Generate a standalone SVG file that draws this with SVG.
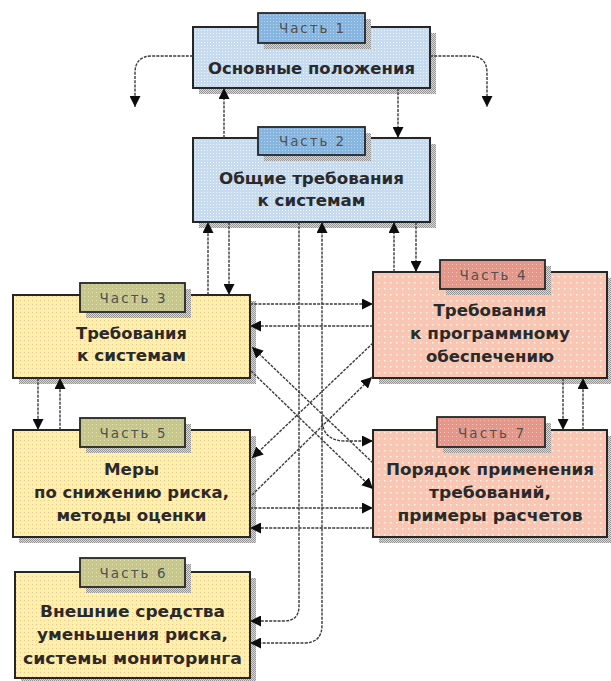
<svg xmlns="http://www.w3.org/2000/svg" width="611" height="681" viewBox="0 0 611 681">
<defs>
<pattern id="pBlue" width="3" height="3" patternUnits="userSpaceOnUse"><rect width="3" height="3" fill="#c6dbf0"/><rect width="1" height="1" fill="#f2f7fc"/></pattern>
<pattern id="pBlueTab" width="3" height="3" patternUnits="userSpaceOnUse"><rect width="3" height="3" fill="#86b5df"/><rect width="1" height="1" fill="#b9d5ee"/></pattern>
<pattern id="pYel" width="4" height="4" patternUnits="userSpaceOnUse"><rect width="4" height="4" fill="#fff1a6"/><rect width="1" height="1" fill="#f2c29c"/></pattern>
<pattern id="pYelTab" width="4" height="4" patternUnits="userSpaceOnUse"><rect width="4" height="4" fill="#c6c78c"/><rect width="1" height="1" fill="#e6e2b0"/></pattern>
<pattern id="pPink" width="6" height="6" patternUnits="userSpaceOnUse"><rect width="6" height="6" fill="#f8c6b2"/><rect width="1.5" height="1.5" fill="#fff3e6"/></pattern>
<pattern id="pPinkTab" width="4" height="4" patternUnits="userSpaceOnUse"><rect width="4" height="4" fill="#e8968a"/><rect width="1" height="1" fill="#f6c4b6"/></pattern>
<pattern id="pShd" width="2" height="2" patternUnits="userSpaceOnUse"><rect width="2" height="2" fill="#d8d8d8"/><rect width="1" height="1" fill="#959595"/><rect x="1" y="1" width="1" height="1" fill="#959595"/></pattern>
<marker id="ah" viewBox="0 0 10 10" refX="10" refY="5" markerWidth="11" markerHeight="11" markerUnits="userSpaceOnUse" orient="auto-start-reverse"><path d="M0,0 L10,5 L0,10 z" fill="#0d0d0d"/></marker>
</defs>
<style>
.box{stroke:#262626;stroke-width:2}
.tab{stroke:#262626;stroke-width:1.8}
.shd{fill:url(#pShd)}
.blue{fill:url(#pBlue)}
.bluet{fill:url(#pBlueTab)}
.yel{fill:url(#pYel)}
.yelt{fill:url(#pYelTab)}
.pink{fill:url(#pPink)}
.pinkt{fill:url(#pPinkTab)}
.t{font-family:"DejaVu Sans",sans-serif;font-weight:bold;font-size:15px;fill:#2a2a2a;text-anchor:middle}
.tt{font-family:"DejaVu Sans",sans-serif;font-size:13.5px;fill:#505050;text-anchor:middle}
.c{fill:none;stroke:#3a3a3a;stroke-width:1.4;stroke-dasharray:3 1.2}
.a{marker-end:url(#ah)}
.s{marker-start:url(#ah)}
</style>
<rect width="611" height="681" fill="#ffffff"/>

<g id="part1">
<rect class="shd" x="199" y="33" width="237" height="61"/>
<rect class="box blue" x="193" y="27" width="237" height="61"/>
<rect class="shd" x="264" y="19" width="107" height="30"/>
<rect class="tab bluet" x="258" y="13" width="107" height="30"/>
<text class="tt" x="311.5" y="33" textLength="65" lengthAdjust="spacing">Часть 1</text>
<text class="t" x="311.5" y="73.5" textLength="207" lengthAdjust="spacingAndGlyphs">Основные положения</text>
</g>

<g id="part2">
<rect class="shd" x="199" y="144" width="237" height="84"/>
<rect class="box blue" x="193" y="138" width="237" height="84"/>
<rect class="shd" x="264" y="133" width="107" height="28"/>
<rect class="tab bluet" x="258" y="127" width="107" height="28"/>
<text class="tt" x="311.5" y="146" textLength="65" lengthAdjust="spacing">Часть 2</text>
<text class="t" x="311.5" y="183.5" textLength="185" lengthAdjust="spacingAndGlyphs">Общие требования</text>
<text class="t" x="311.5" y="205.5" textLength="108" lengthAdjust="spacingAndGlyphs">к системам</text>
</g>

<g id="part3">
<rect class="shd" x="19" y="301" width="237" height="83"/>
<rect class="box yel" x="13" y="295" width="237" height="83"/>
<rect class="shd" x="86" y="289" width="105" height="29"/>
<rect class="tab yelt" x="80" y="283" width="105" height="29"/>
<text class="tt" x="132.5" y="302.5" textLength="66" lengthAdjust="spacing">Часть 3</text>
<text class="t" x="131.5" y="339" textLength="111" lengthAdjust="spacingAndGlyphs">Требования</text>
<text class="t" x="131.5" y="361" textLength="109" lengthAdjust="spacingAndGlyphs">к системам</text>
</g>

<g id="part4">
<rect class="shd" x="379" y="278" width="234" height="106"/>
<rect class="box pink" x="373" y="272" width="234" height="106"/>
<rect class="shd" x="446" y="266" width="105" height="29"/>
<rect class="tab pinkt" x="440" y="260" width="105" height="29"/>
<text class="tt" x="492.5" y="279.5" textLength="66" lengthAdjust="spacing">Часть 4</text>
<text class="t" x="490" y="315.5" textLength="113" lengthAdjust="spacingAndGlyphs">Требования</text>
<text class="t" x="490" y="338.5" textLength="160" lengthAdjust="spacingAndGlyphs">к программному</text>
<text class="t" x="490" y="361.5" textLength="128" lengthAdjust="spacingAndGlyphs">обеспечению</text>
</g>

<g id="part5">
<rect class="shd" x="19" y="436" width="237" height="107"/>
<rect class="box yel" x="13" y="430" width="237" height="107"/>
<rect class="shd" x="86" y="424" width="105" height="29"/>
<rect class="tab yelt" x="80" y="418" width="105" height="29"/>
<text class="tt" x="132.5" y="437.5" textLength="66" lengthAdjust="spacing">Часть 5</text>
<text class="t" x="131.5" y="474.5" textLength="55" lengthAdjust="spacingAndGlyphs">Меры</text>
<text class="t" x="131.5" y="497.5" textLength="195" lengthAdjust="spacingAndGlyphs">по снижению риска,</text>
<text class="t" x="131.5" y="520.5" textLength="150" lengthAdjust="spacingAndGlyphs">методы оценки</text>
</g>

<g id="part7">
<rect class="shd" x="379" y="436" width="234" height="107"/>
<rect class="box pink" x="373" y="430" width="234" height="107"/>
<rect class="shd" x="443" y="423" width="108" height="30"/>
<rect class="tab pinkt" x="437" y="417" width="108" height="30"/>
<text class="tt" x="491" y="437.5" textLength="66" lengthAdjust="spacing">Часть 7</text>
<text class="t" x="490" y="474.5" textLength="208" lengthAdjust="spacingAndGlyphs">Порядок применения</text>
<text class="t" x="490" y="497.5" textLength="122" lengthAdjust="spacingAndGlyphs">требований,</text>
<text class="t" x="490" y="520.5" textLength="185" lengthAdjust="spacingAndGlyphs">примеры расчетов</text>
</g>

<g id="part6">
<rect class="shd" x="21" y="578" width="235" height="106"/>
<rect class="box yel" x="15" y="572" width="235" height="106"/>
<rect class="shd" x="86" y="564" width="105" height="29"/>
<rect class="tab yelt" x="80" y="558" width="105" height="29"/>
<text class="tt" x="132.5" y="577.5" textLength="66" lengthAdjust="spacing">Часть 6</text>
<text class="t" x="132.5" y="616.5" textLength="185" lengthAdjust="spacingAndGlyphs">Внешние средства</text>
<text class="t" x="132.5" y="640" textLength="191" lengthAdjust="spacingAndGlyphs">уменьшения риска,</text>
<text class="t" x="132.5" y="663.5" textLength="219" lengthAdjust="spacingAndGlyphs">системы мониторинга</text>
</g>

<g id="connectors">
<path class="c a" d="M193,56 H152 Q135,56 135,73 V107"/>
<path class="c a" d="M430,56 H470 Q487,56 487,73 V107"/>
<path class="c a" d="M224,138 V88"/>
<path class="c a" d="M398,88 V138"/>
<path class="c a" d="M208,295 V222"/>
<path class="c a" d="M229,222 V295"/>
<path class="c a" d="M394,272 V222"/>
<path class="c a" d="M416,222 V272"/>
<path class="c a" d="M38,378 V430"/>
<path class="c a" d="M60,430 V378"/>
<path class="c a" d="M563,378 V430"/>
<path class="c a" d="M583,430 V378"/>
<path class="c a" d="M250,304 H373"/>
<path class="c a" d="M373,326 H250"/>
<path class="c a" d="M250,508 H373"/>
<path class="c a" d="M373,528 H250"/>
<path class="c a" d="M373,463 L252,347"/>
<path class="c a" d="M251,371 L373,489"/>
<path class="c a" d="M252,495 L372,377"/>
<path class="c a" d="M373,343 L252,458"/>
<path class="c a" d="M299,222 V606 Q299,621 284,621 H250"/>
<path class="c a s" d="M322,222 V625 Q322,643 304,643 H250"/>
<path class="c a" d="M322,418 Q322,441 345,441 H373"/>
</g>
</svg>
